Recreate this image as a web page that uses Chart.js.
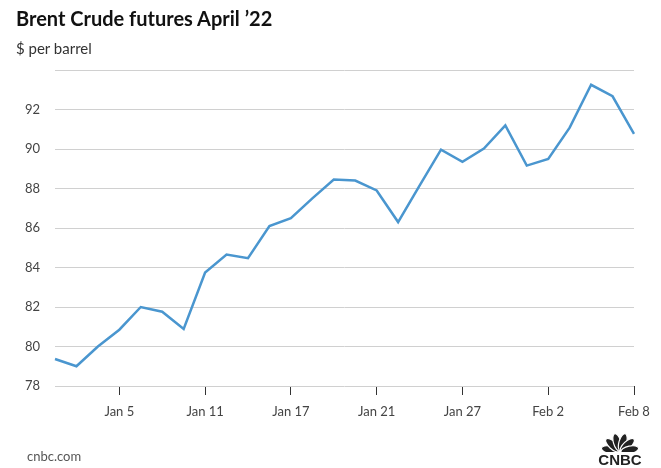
<!DOCTYPE html>
<html>
<head>
<meta charset="utf-8">
<script src="https://cdn.jsdelivr.net/npm/chart.js@4"></script>
<style>
  html, body { margin: 0; padding: 0; background: #fff; }
  body { width: 661px; height: 468px; position: relative; overflow: hidden; font-family: "Lato", "Liberation Sans", sans-serif; }
  #titulo { position: absolute; left: 16px; top: 6px; font-size: 20px; font-weight: 700; color: #111; }
  #subtitulo { position: absolute; left: 16px; top: 39px; font-size: 15px; color: #333; }
  #fuente { position: absolute; left: 27px; top: 448px; font-size: 13px; color: #555; }
  #grafico { position: absolute; left: 0; top: 0; }
</style>
</head>
<body>
<canvas id="grafico" width="661" height="468"></canvas>
<div id="titulo">Brent Crude futures April ’22</div>
<div id="subtitulo">$ per barrel</div>
<div id="fuente">cnbc.com</div>
<script>
const fechas = ["Dec 31", "Jan 3", "Jan 4", "Jan 5", "Jan 6", "Jan 7", "Jan 10", "Jan 11", "Jan 12", "Jan 13",
  "Jan 14", "Jan 17", "Jan 18", "Jan 19", "Jan 20", "Jan 21", "Jan 24", "Jan 25", "Jan 26", "Jan 27",
  "Jan 28", "Jan 31", "Feb 1", "Feb 2", "Feb 3", "Feb 4", "Feb 7", "Feb 8"];
const precios = [79.37, 79.0, 80.0, 80.85, 82.0, 81.76, 80.89, 83.75, 84.66, 84.47,
  86.1, 86.5, 87.5, 88.45, 88.4, 87.9, 86.3, 88.15, 89.97, 89.35,
  90.02, 91.2, 89.16, 89.5, 91.08, 93.25, 92.67, 90.77];
const etiquetasX = ["Jan 5", "Jan 11", "Jan 17", "Jan 21", "Jan 27", "Feb 2", "Feb 8"];
const etiquetasY = [78, 80, 82, 84, 86, 88, 90, 92];

// logo de CNBC abajo a la derecha
const logo = {
  id: "logo",
  afterDraw(chart) {
    const ctx = chart.ctx;
    const cx = 620, cy = 452;
    ctx.save();
    ctx.beginPath();
    ctx.rect(595, 425, 50, cy - 425);
    ctx.clip();
    [-78, -47, -16, 16, 47, 78].forEach(a => {
      const r = a * Math.PI / 180;
      ctx.save();
      ctx.translate(cx + 10 * Math.sin(r), cy - 10 * Math.cos(r));
      ctx.rotate(r);
      ctx.beginPath();
      ctx.ellipse(0, 0, 3.8, 9, 0, 0, Math.PI * 2);
      ctx.fillStyle = "#222";
      ctx.fill();
      ctx.lineWidth = 1.2;
      ctx.strokeStyle = "#fff";
      ctx.stroke();
      ctx.restore();
    });
    ctx.restore();
    ctx.save();
    ctx.font = "bold 15px 'Liberation Sans', Arial, sans-serif";
    ctx.fillStyle = "#222";
    ctx.textAlign = "center";
    ctx.textBaseline = "alphabetic";
    ctx.fillText("CNBC", cx, 465, 44);
    ctx.restore();
  }
};

new Chart(document.getElementById("grafico"), {
  type: "line",
  data: {
    labels: fechas,
    datasets: [
      {
        label: "Brent",
        data: precios,
        borderColor: "#4a96cf",
        borderWidth: 2.5,
        pointRadius: 0,
        tension: 0,
        fill: false,
      },
    ],
  },
  options: {
    responsive: false,
    animation: false,
    layout: { padding: { left: 15, right: 27, top: 70, bottom: 42 } },
    plugins: { legend: { display: false }, tooltip: { enabled: false } },
    scales: {
      x: {
        offset: false,
        border: { display: false },
        grid: {
          drawOnChartArea: false,
          drawTicks: true,
          tickLength: 9,
          lineWidth: 1,
          color: (c) => etiquetasX.includes(fechas[c.index]) ? "#333" : "rgba(0,0,0,0)",
        },
        ticks: {
          autoSkip: false,
          maxRotation: 0,
          padding: 9,
          color: "#444",
          font: { family: "Lato", size: 13 },
          callback: (v, i) => etiquetasX.includes(fechas[i]) ? fechas[i] : "",
        },
        afterFit: (s) => { s.height = 40; },
      },
      y: {
        min: 78,
        max: 94,
        border: { display: false },
        grid: { color: "#d0d0d0", lineWidth: 1, drawTicks: false },
        ticks: {
          stepSize: 2,
          padding: 15,
          color: "#444",
          font: { family: "Lato", size: 13 },
          callback: (v) => etiquetasY.includes(v) ? v : "",
        },
        afterFit: (s) => { s.width = 40; },
      },
    },
  },
  plugins: [logo],
});
</script>
</body>
</html>
